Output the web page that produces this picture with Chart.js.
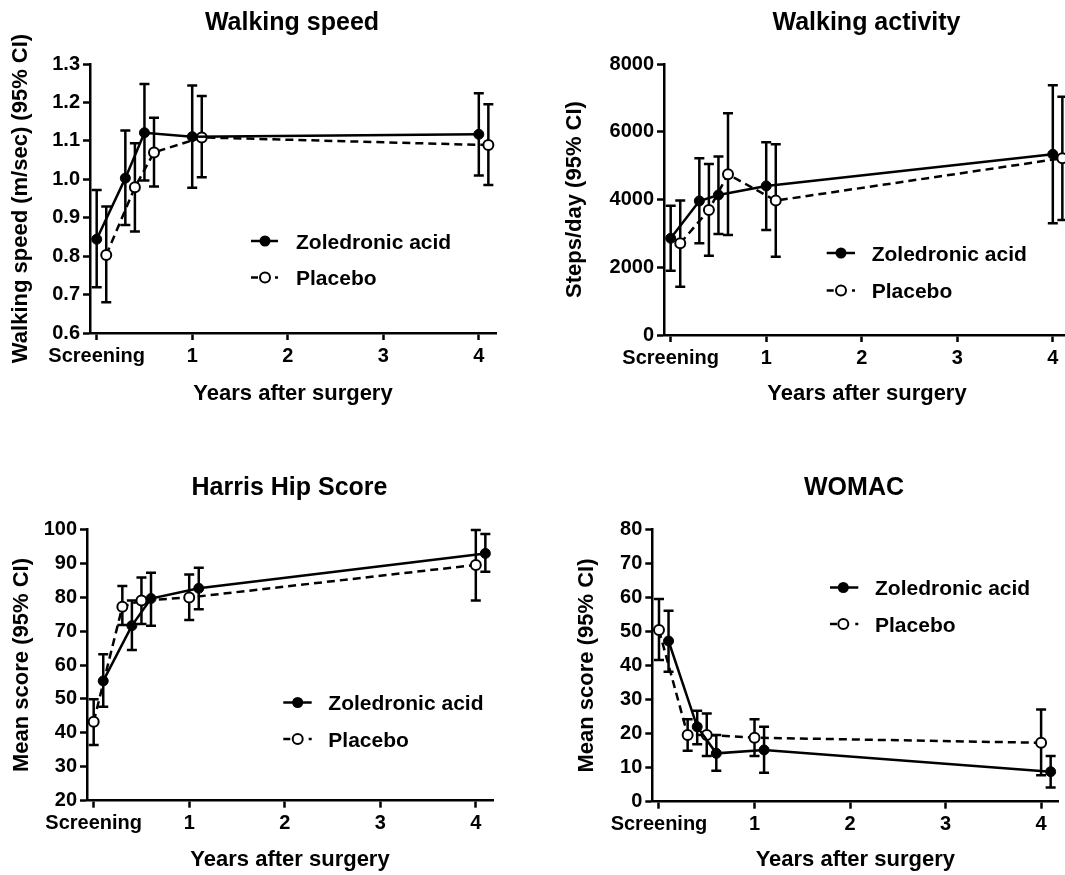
<!DOCTYPE html>
<html>
<head>
<meta charset="utf-8">
<script src="https://cdn.jsdelivr.net/npm/chart.js@4/dist/chart.umd.min.js"></script>
<style>
  html, body { margin: 0; padding: 0; background: #fff; width: 1065px; height: 875px; overflow: hidden; }
  canvas { position: absolute; }
</style>
</head>
<body>
<canvas id="c1" width="532" height="437" style="left:0px;top:0px;width:532px;height:437px"></canvas>
<canvas id="c2" width="560" height="437" style="left:532px;top:0px;width:560px;height:437px"></canvas>
<canvas id="c3" width="532" height="438" style="left:0px;top:437px;width:532px;height:438px"></canvas>
<canvas id="c4" width="560" height="438" style="left:532px;top:437px;width:560px;height:438px"></canvas>
<script>
// ---------- shared x axis ----------
const xTickValues = [0, 1, 2, 3, 4];
const xTickLabels = ['Screening', '1', '2', '3', '4'];
const seriesNames = ['Zoledronic acid', 'Placebo'];

// ---------- Walking speed ----------
const wsZolX  = [0, 0.3, 0.5, 1.0, 4.0];
const wsZolY  = [0.844, 1.003, 1.121, 1.111, 1.117];
const wsZolLo = [0.719, 0.881, 0.997, 0.978, 1.010];
const wsZolHi = [0.972, 1.127, 1.248, 1.244, 1.224];
const wsPlaX  = [0.1, 0.4, 0.6, 1.1, 4.1];
const wsPlaY  = [0.803, 0.979, 1.070, 1.109, 1.089];
const wsPlaLo = [0.680, 0.864, 0.981, 1.005, 0.985];
const wsPlaHi = [0.929, 1.094, 1.160, 1.217, 1.195];
const wsYTicks = [0.6, 0.7, 0.8, 0.9, 1.0, 1.1, 1.2, 1.3];

// ---------- Walking activity ----------
const waZolX  = [0, 0.3, 0.5, 1.0, 4.0];
const waZolY  = [2854, 3957, 4134, 4400, 5335];
const waZolLo = [1900, 2707, 2982, 3100, 3300];
const waZolHi = [3819, 5217, 5266, 5689, 7375];
const waPlaX  = [0.1, 0.4, 0.6, 1.1, 4.1];
const waPlaY  = [2707, 3691, 4744, 3967, 5217];
const waPlaLo = [1427, 2343, 2953, 2313, 3396];
const waPlaHi = [3967, 5049, 6545, 5630, 7030];
const waYTicks = [0, 2000, 4000, 6000, 8000];

// ---------- Harris Hip Score ----------
const hhZolX  = [0.1, 0.4, 0.6, 1.1, 4.1];
const hhZolY  = [55.3, 71.6, 79.6, 82.6, 92.9];
const hhZolLo = [47.7, 64.4, 71.6, 76.4, 87.5];
const hhZolHi = [63.2, 79.0, 87.2, 88.7, 98.6];
const hhPlaX  = [0, 0.3, 0.5, 1.0, 4.0];
const hhPlaY  = [43.3, 77.2, 79.0, 79.9, 89.5];
const hhPlaLo = [36.4, 71.8, 72.1, 73.3, 79.0];
const hhPlaHi = [49.9, 83.3, 85.8, 86.7, 99.8];
const hhYTicks = [20, 30, 40, 50, 60, 70, 80, 90, 100];

// ---------- WOMAC ----------
const wmZolX  = [0.1, 0.4, 0.6, 1.1, 4.1];
const wmZolY  = [47.2, 22.0, 14.2, 15.2, 8.8];
const wmZolLo = [38.2, 16.9, 9.1, 8.5, 4.2];
const wmZolHi = [56.1, 26.7, 19.6, 22.0, 13.4];
const wmPlaX  = [0, 0.3, 0.5, 1.0, 4.0];
const wmPlaY  = [50.4, 19.6, 19.6, 18.8, 17.3];
const wmPlaLo = [41.6, 15.0, 13.4, 13.4, 7.8];
const wmPlaHi = [59.5, 24.2, 25.9, 24.2, 27.1];
const wmYTicks = [0, 10, 20, 30, 40, 50, 60, 70, 80];

const FONT = '"Liberation Sans", Arial, Helvetica, sans-serif';
const X_MIN = -0.07, X_MAX = 4.18;

const errorBars = {
  id: 'errorBars',
  beforeDatasetsDraw(chart) {
    const ctx = chart.ctx, xs = chart.scales.x, ys = chart.scales.y;
    chart.data.datasets.forEach(ds => {
      ctx.save();
      ctx.strokeStyle = '#000';
      ctx.lineWidth = 2.5;
      ctx.setLineDash([]);
      ds.data.forEach((p, j) => {
        const x = xs.getPixelForValue(p.x);
        const yl = ys.getPixelForValue(ds.errLo[j]);
        const yh = ys.getPixelForValue(ds.errHi[j]);
        ctx.beginPath();
        ctx.moveTo(x, yh); ctx.lineTo(x, yl);
        ctx.moveTo(x - 5, yh); ctx.lineTo(x + 5, yh);
        ctx.moveTo(x - 5, yl); ctx.lineTo(x + 5, yl);
        ctx.stroke();
      });
      ctx.restore();
    });
  }
};

const deco = {
  id: 'deco',
  afterDraw(chart, args, o) {
    const ctx = chart.ctx;
    ctx.save();
    ctx.fillStyle = '#000';
    ctx.textAlign = 'center';
    ctx.textBaseline = 'alphabetic';
    ctx.font = 'bold 25px ' + FONT;
    ctx.fillText(o.title, o.titleX, o.titleBase);
    // legend
    const L = o.legend;
    ctx.strokeStyle = '#000';
    ctx.lineWidth = 2.5;
    // zoledronic
    ctx.beginPath(); ctx.moveTo(L.sx0, L.r0); ctx.lineTo(L.sx1, L.r0); ctx.stroke();
    ctx.beginPath(); ctx.arc(L.mx, L.r0, 5.5, 0, Math.PI * 2); ctx.fillStyle = '#000'; ctx.fill();
    // placebo
    ctx.beginPath(); ctx.moveTo(L.sx0, L.r1); ctx.lineTo(L.sx0 + 7, L.r1); ctx.stroke();
    ctx.beginPath(); ctx.moveTo(L.sx1 - 3, L.r1); ctx.lineTo(L.sx1, L.r1); ctx.stroke();
    ctx.beginPath(); ctx.arc(L.mx, L.r1, 5, 0, Math.PI * 2);
    ctx.fillStyle = '#fff'; ctx.fill(); ctx.lineWidth = 2; ctx.stroke();
    ctx.fillStyle = '#000';
    ctx.textAlign = 'left';
    ctx.font = 'bold 21px ' + FONT;
    ctx.fillText(seriesNames[0], L.tx, L.r0 + 7.5);
    ctx.fillText(seriesNames[1], L.tx, L.r1 + 7.5);
    ctx.restore();
  }
};

function pts(xa, ya) { return xa.map((x, i) => ({ x: x, y: ya[i] })); }

function makePanel(id, c) {
  const datasets = [
    {
      label: seriesNames[0], data: pts(c.zx, c.zy), errLo: c.zlo, errHi: c.zhi,
      showLine: true, borderColor: '#000', borderWidth: 2.5,
      pointRadius: 5, pointBackgroundColor: '#000', pointBorderColor: '#000', pointBorderWidth: 1,
      tension: 0, clip: false
    },
    {
      label: seriesNames[1], data: pts(c.px, c.py), errLo: c.plo, errHi: c.phi,
      showLine: true, borderColor: '#000', borderWidth: 2.5, borderDash: [8, 5],
      pointRadius: 5, pointBackgroundColor: '#fff', pointBorderColor: '#000', pointBorderWidth: 2,
      tension: 0, clip: false
    }
  ];
  new Chart(document.getElementById(id), {
    type: 'scatter',
    data: { datasets: datasets },
    options: {
      responsive: false, animation: false, events: [],
      layout: { autoPadding: false, padding: { left: 0, bottom: 0, top: c.padTop, right: c.padRight } },
      plugins: { legend: { display: false }, tooltip: { enabled: false }, deco: c.deco },
      scales: {
        x: {
          type: 'linear', min: X_MIN, max: X_MAX,
          afterFit(s) { s.height = c.xH; },
          afterBuildTicks(s) { s.ticks = xTickValues.map(v => ({ value: v })); },
          border: { display: true, color: '#000', width: 2.5 },
          grid: { drawOnChartArea: false, drawTicks: true, tickLength: 7, tickWidth: 2.5, tickColor: '#000' },
          ticks: {
            color: '#000', padding: 4, maxRotation: 0, autoSkip: false,
            font: { family: FONT, size: 20, weight: 'bold' },
            callback(v) { const i = xTickValues.indexOf(v); return i >= 0 ? xTickLabels[i] : ''; }
          },
          title: {
            display: true, text: 'Years after surgery', color: '#000',
            font: { family: FONT, size: 22, weight: 'bold', lineHeight: 1.2 },
            padding: { top: 0, bottom: c.xTitlePad }
          }
        },
        y: {
          type: 'linear', min: c.yTicks[0], max: c.yTicks[c.yTicks.length - 1],
          afterFit(s) { s.width = c.yW; },
          afterBuildTicks(s) { s.ticks = c.yTicks.map(v => ({ value: v })); },
          border: { display: true, color: '#000', width: 2.5 },
          grid: { drawOnChartArea: false, drawTicks: true, tickLength: 7, tickWidth: 2.5, tickColor: '#000' },
          ticks: {
            color: '#000', padding: 3, autoSkip: false,
            font: { family: FONT, size: 20, weight: 'bold' },
            callback(v) { return c.yFmt(v); }
          },
          title: {
            display: true, text: c.yTitle, color: '#000',
            font: { family: FONT, size: 22, weight: 'bold', lineHeight: 1.2 },
            padding: { top: c.yTitlePad, bottom: 0 }
          }
        }
      }
    },
    plugins: [errorBars, deco]
  });
}

makePanel('c1', {
  zx: wsZolX, zy: wsZolY, zlo: wsZolLo, zhi: wsZolHi,
  px: wsPlaX, py: wsPlaY, plo: wsPlaLo, phi: wsPlaHi,
  yTicks: wsYTicks, yFmt: v => v.toFixed(1), yTitle: 'Walking speed (m/sec) (95% CI)',
  padTop: 64, padRight: 36, yW: 90, xH: 104, yTitlePad: 7.8, xTitlePad: 29.7,
  deco: { title: 'Walking speed', titleX: 292, titleBase: 30,
    legend: { r0: 241, r1: 277.5, sx0: 251, sx1: 278, mx: 265, tx: 296 } }
});
makePanel('c2', {
  zx: waZolX, zy: waZolY, zlo: waZolLo, zhi: waZolHi,
  px: waPlaX, py: waPlaY, plo: waPlaLo, phi: waPlaHi,
  yTicks: waYTicks, yFmt: v => String(v), yTitle: 'Steps/day (95% CI)',
  padTop: 64, padRight: 22, yW: 132, xH: 102, yTitlePad: 29.8, xTitlePad: 29.7,
  deco: { title: 'Walking activity', titleX: 334.5, titleBase: 30,
    legend: { r0: 253, r1: 290.5, sx0: 294.7, sx1: 323, mx: 309, tx: 339.7 } }
});
makePanel('c3', {
  zx: hhZolX, zy: hhZolY, zlo: hhZolLo, zhi: hhZolHi,
  px: hhPlaX, py: hhPlaY, plo: hhPlaLo, phi: hhPlaHi,
  yTicks: hhYTicks, yFmt: v => String(v), yTitle: 'Mean score (95% CI)',
  padTop: 92.3, padRight: 39, yW: 87, xH: 74.3, yTitlePad: 8.3, xTitlePad: 1.4,
  deco: { title: 'Harris Hip Score', titleX: 289.5, titleBase: 58,
    legend: { r0: 265.5, r1: 302, sx0: 283.3, sx1: 311.7, mx: 297.7, tx: 328.3 } }
});
makePanel('c4', {
  zx: wmZolX, zy: wmZolY, zlo: wmZolLo, zhi: wmZolHi,
  px: wmPlaX, py: wmPlaY, plo: wmPlaLo, phi: wmPlaHi,
  yTicks: wmYTicks, yFmt: v => String(v), yTitle: 'Mean score (95% CI)',
  padTop: 92.3, padRight: 33.7, yW: 120.3, xH: 73.3, yTitlePad: 41.3, xTitlePad: 1.4,
  deco: { title: 'WOMAC', titleX: 322, titleBase: 58,
    legend: { r0: 150.5, r1: 187, sx0: 298, sx1: 326.3, mx: 311.3, tx: 343 } }
});
</script>
</body>
</html>
